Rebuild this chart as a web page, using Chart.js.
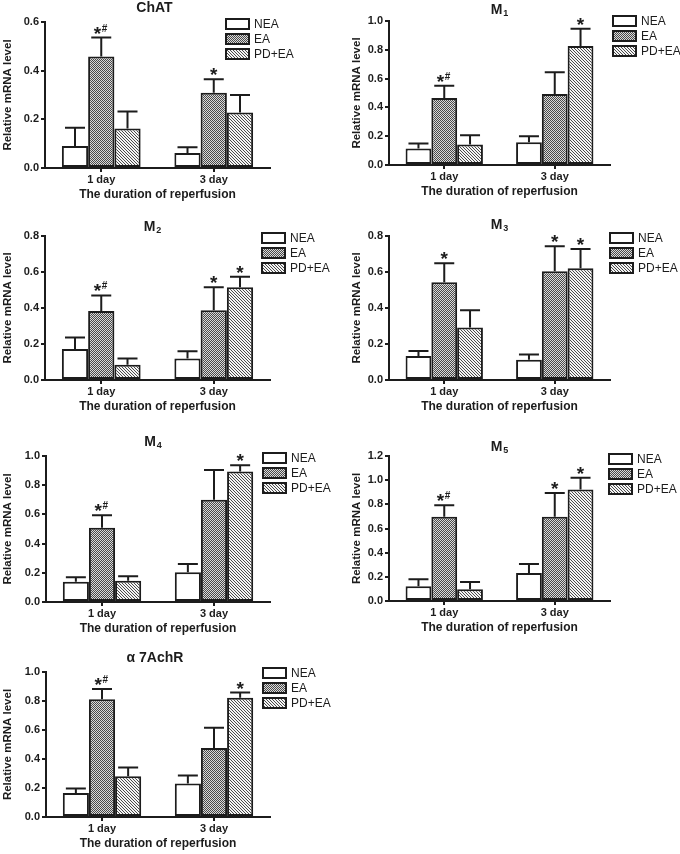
<!DOCTYPE html>
<html>
<head>
<meta charset="utf-8">
<script src="https://cdn.jsdelivr.net/npm/chart.js@4.4.0/dist/chart.umd.min.js"></script>
<style>
  body { margin: 0; background: #fff; width: 680px; height: 854px; position: relative; overflow: hidden; }
  canvas { position: absolute; }
</style>
</head>
<body>
<canvas id="chat" width="340" height="215" style="left:0;top:0"></canvas>
<canvas id="m1" width="340" height="215" style="left:340px;top:0"></canvas>
<canvas id="m2" width="340" height="210" style="left:0;top:215px"></canvas>
<canvas id="m3" width="340" height="210" style="left:340px;top:215px"></canvas>
<canvas id="m4" width="340" height="215" style="left:0;top:425px"></canvas>
<canvas id="m5" width="340" height="215" style="left:340px;top:425px"></canvas>
<canvas id="a7" width="340" height="214" style="left:0;top:640px"></canvas>
<script>
// Relative mRNA level panels - NEA / EA / PD+EA, 1 and 3 day reperfusion

const categories = ['1 day', '3 day'];
const seriesNames = ['NEA', 'EA', 'PD+EA'];

// each row: one series (NEA, EA, PD+EA), values for 1 day and 3 day
const chatMeans = [[0.090, 0.062], [0.458, 0.309], [0.162, 0.228]];
const chatSD    = [[0.075, 0.023], [0.078, 0.056], [0.070, 0.072]];
const chatMarks = [['', ''], ['*#', '*'], ['', '']];
const chatTicks = [0, 0.2, 0.4, 0.6];

const m1Means = [[0.114, 0.158], [0.465, 0.493], [0.142, 0.826]];
const m1SD    = [[0.035, 0.041], [0.086, 0.151], [0.064, 0.121]];
const m1Marks = [['', ''], ['*#', ''], ['', '*']];
const m1Ticks = [0, 0.2, 0.4, 0.6, 0.8, 1.0];

const m2Means = [[0.172, 0.120], [0.383, 0.387], [0.085, 0.515]];
const m2SD    = [[0.064, 0.040], [0.087, 0.128], [0.034, 0.059]];
const m2Marks = [['', ''], ['*#', '*'], ['', '*']];
const m2Ticks = [0, 0.2, 0.4, 0.6, 0.8];

const m3Means = [[0.133, 0.113], [0.543, 0.604], [0.291, 0.621]];
const m3SD    = [[0.028, 0.028], [0.105, 0.139], [0.096, 0.107]];
const m3Marks = [['', ''], ['*', '*'], ['', '*']];
const m3Ticks = [0, 0.2, 0.4, 0.6, 0.8];

const m4Means = [[0.139, 0.203], [0.509, 0.700], [0.146, 0.893]];
const m4SD    = [[0.030, 0.057], [0.085, 0.204], [0.030, 0.043]];
const m4Marks = [['', ''], ['*#', ''], ['', '*']];
const m4Ticks = [0, 0.2, 0.4, 0.6, 0.8, 1.0];

const m5Means = [[0.122, 0.232], [0.697, 0.697], [0.097, 0.923]];
const m5SD    = [[0.058, 0.075], [0.096, 0.196], [0.061, 0.097]];
const m5Marks = [['', ''], ['*#', '*'], ['', '*']];
const m5Ticks = [0, 0.2, 0.4, 0.6, 0.8, 1.0, 1.2];

const a7Means = [[0.165, 0.231], [0.812, 0.476], [0.281, 0.822]];
const a7SD    = [[0.032, 0.055], [0.071, 0.140], [0.060, 0.036]];
const a7Marks = [['', ''], ['*#', ''], ['', '*']];
const a7Ticks = [0, 0.2, 0.4, 0.6, 0.8, 1.0];

const FONT = 'Arial, "Liberation Sans", Helvetica, sans-serif';
const INK = '#1c1c1c';

// fill patterns: white, fine checker (EA), diagonal hatch (PD+EA)
function checkerPattern() {
    const c = document.createElement('canvas');
    c.width = 2; c.height = 2;
    const g = c.getContext('2d');
    g.fillStyle = '#dadada'; g.fillRect(0, 0, 2, 2);
    g.fillStyle = '#4a4a4a'; g.fillRect(0, 0, 1, 1); g.fillRect(1, 1, 1, 1);
    return g.createPattern(c, 'repeat');
}
function hatchPattern() {
    const c = document.createElement('canvas');
    c.width = 3; c.height = 3;
    const g = c.getContext('2d');
    g.fillStyle = '#f4f4f4'; g.fillRect(0, 0, 3, 3);
    g.fillStyle = '#4a4a4a';
    for (let i = 0; i < 3; i++) g.fillRect(i, i, 1, 1);
    return g.createPattern(c, 'repeat');
}
const fills = ['#ffffff', checkerPattern(), hatchPattern()];

// upper error bars + significance marks
const errorMarks = {
    id: 'errorMarks',
    afterDatasetsDraw(chart) {
        const ctx = chart.ctx;
        const y = chart.scales.y;
        ctx.save();
        chart.data.datasets.forEach((ds, i) => {
            chart.getDatasetMeta(i).data.forEach((bar, j) => {
                const top = y.getPixelForValue(ds.data[j] + ds.sd[j]);
                ctx.strokeStyle = INK;
                ctx.lineWidth = 2;
                ctx.beginPath();
                ctx.moveTo(bar.x, bar.y);
                ctx.lineTo(bar.x, top);
                ctx.moveTo(bar.x - 10, top);
                ctx.lineTo(bar.x + 10, top);
                ctx.stroke();

                const mark = ds.marks[j];
                if (!mark) return;
                ctx.fillStyle = INK;
                ctx.textBaseline = 'alphabetic';
                ctx.font = `bold 19px ${FONT}`;
                if (mark === '*') {
                    ctx.textAlign = 'center';
                    ctx.fillText('*', bar.x, top + 2);
                } else {
                    ctx.textAlign = 'right';
                    ctx.fillText('*', bar.x, top + 2);
                    ctx.font = `bold 10px ${FONT}`;
                    ctx.textAlign = 'left';
                    ctx.fillText('#', bar.x + 0.5, top - 6);
                }
            });
        });
        ctx.restore();
    }
};

const legendBoxes = {
    id: 'legendBoxes',
    afterDraw(chart, args, o) {
        const ctx = chart.ctx;
        ctx.save();
        ctx.font = `12px ${FONT}`;
        ctx.textBaseline = 'middle';
        ctx.textAlign = 'left';
        chart.data.datasets.forEach((ds, i) => {
            const cy = o.y + i * o.dy;
            ctx.fillStyle = ds.backgroundColor;
            ctx.fillRect(o.x, cy - 5, 23, 10);
            ctx.lineWidth = 2;
            ctx.strokeStyle = INK;
            ctx.strokeRect(o.x, cy - 5, 23, 10);
            ctx.fillStyle = INK;
            ctx.fillText(ds.label, o.x + 28, cy + 0.5);
        });
        ctx.restore();
    }
};

const panelTitle = {
    id: 'panelTitle',
    afterDraw(chart, args, o) {
        const ctx = chart.ctx;
        const a = chart.chartArea;
        ctx.save();
        ctx.fillStyle = INK;
        ctx.textBaseline = 'middle';
        ctx.textAlign = 'left';
        ctx.font = `bold 14px ${FONT}`;
        const w1 = ctx.measureText(o.text).width;
        ctx.font = `bold 9px ${FONT}`;
        const w2 = o.sub ? ctx.measureText(o.sub).width + 1 : 0;
        const x0 = (a.left + a.right) / 2 + o.dx - (w1 + w2) / 2;
        ctx.font = `bold 14px ${FONT}`;
        ctx.fillText(o.text, x0, o.y);
        if (o.sub) {
            ctx.font = `bold 9px ${FONT}`;
            ctx.fillText(o.sub, x0 + w1 + 1, o.y + 4);
        }
        ctx.restore();
    }
};

function createPanel(id, p) {
    const ctx = document.getElementById(id);
    const h = ctx.height;
    return new Chart(ctx, {
        type: 'bar',
        data: {
            labels: categories,
            datasets: seriesNames.map((name, i) => ({
                label: name,
                data: p.means[i],
                sd: p.sd[i],
                marks: p.marks[i],
                backgroundColor: fills[i],
                borderColor: INK,
                borderWidth: 2,
                borderSkipped: false,
                categoryPercentage: 0.7,
                barPercentage: 1.0
            }))
        },
        options: {
            responsive: false,
            animation: false,
            layout: {
                padding: { left: p.padLeft, top: p.top, right: 70, bottom: h - p.bottom - 36 }
            },
            plugins: {
                legend: { display: false },
                tooltip: { enabled: false },
                panelTitle: { text: p.title, sub: p.sub, dx: p.titleDx, y: p.titleY },
                legendBoxes: { x: p.legendX, y: p.legendY, dy: 15 }
            },
            scales: {
                x: {
                    grid: { offset: false, drawOnChartArea: false, tickLength: 4, color: INK, lineWidth: 2 },
                    border: { color: INK, width: 2 },
                    ticks: { color: INK, padding: 1, font: { family: FONT, size: 11, weight: 'bold' } },
                    title: {
                        display: true,
                        text: 'The duration of reperfusion',
                        color: INK,
                        font: { family: FONT, size: 12, weight: 'bold' },
                        padding: { top: 0, bottom: 2 }
                    },
                    afterFit: s => { s.height = 36; }
                },
                y: {
                    min: 0,
                    max: p.ticks[p.ticks.length - 1],
                    afterBuildTicks: s => { s.ticks = p.ticks.map(v => ({ value: v })); },
                    grid: { drawOnChartArea: false, tickLength: 4, color: INK, lineWidth: 2 },
                    border: { color: INK, width: 2 },
                    ticks: {
                        color: INK,
                        padding: 2,
                        font: { family: FONT, size: 11, weight: 'bold' },
                        callback: v => Number(v).toFixed(1)
                    },
                    title: {
                        display: true,
                        text: 'Relative mRNA level',
                        color: INK,
                        font: { family: FONT, size: 11.5, weight: 'bold' },
                        padding: { top: 1, bottom: 0 }
                    },
                    afterFit: s => { s.width = p.axisWidth; }
                }
            }
        },
        plugins: [errorMarks, legendBoxes, panelTitle]
    });
}

createPanel('chat', {
    title: 'ChAT', sub: '', means: chatMeans, sd: chatSD, marks: chatMarks, ticks: chatTicks,
    padLeft: 0, axisWidth: 45, top: 22, bottom: 168, titleDx: -3, titleY: 8, legendX: 226, legendY: 24
});
createPanel('m1', {
    title: 'M', sub: '1', means: m1Means, sd: m1SD, marks: m1Marks, ticks: m1Ticks,
    padLeft: 9, axisWidth: 40, top: 21, bottom: 165, titleDx: 0, titleY: 10, legendX: 273, legendY: 21
});
createPanel('m2', {
    title: 'M', sub: '2', means: m2Means, sd: m2SD, marks: m2Marks, ticks: m2Ticks,
    padLeft: 0, axisWidth: 45, top: 21, bottom: 165, titleDx: -5, titleY: 12, legendX: 262, legendY: 23
});
createPanel('m3', {
    title: 'M', sub: '3', means: m3Means, sd: m3SD, marks: m3Marks, ticks: m3Ticks,
    padLeft: 9, axisWidth: 40, top: 21, bottom: 165, titleDx: 0, titleY: 10, legendX: 270, legendY: 23
});
createPanel('m4', {
    title: 'M', sub: '4', means: m4Means, sd: m4SD, marks: m4Marks, ticks: m4Ticks,
    padLeft: 0, axisWidth: 46, top: 31, bottom: 177, titleDx: -5, titleY: 17, legendX: 263, legendY: 33
});
createPanel('m5', {
    title: 'M', sub: '5', means: m5Means, sd: m5SD, marks: m5Marks, ticks: m5Ticks,
    padLeft: 9, axisWidth: 40, top: 31, bottom: 176, titleDx: 0, titleY: 22, legendX: 269, legendY: 34
});
createPanel('a7', {
    title: 'α 7AchR', sub: '', means: a7Means, sd: a7SD, marks: a7Marks, ticks: a7Ticks,
    padLeft: 0, axisWidth: 46, top: 32, bottom: 177, titleDx: -3, titleY: 18, legendX: 263, legendY: 33
});
</script>
</body>
</html>
